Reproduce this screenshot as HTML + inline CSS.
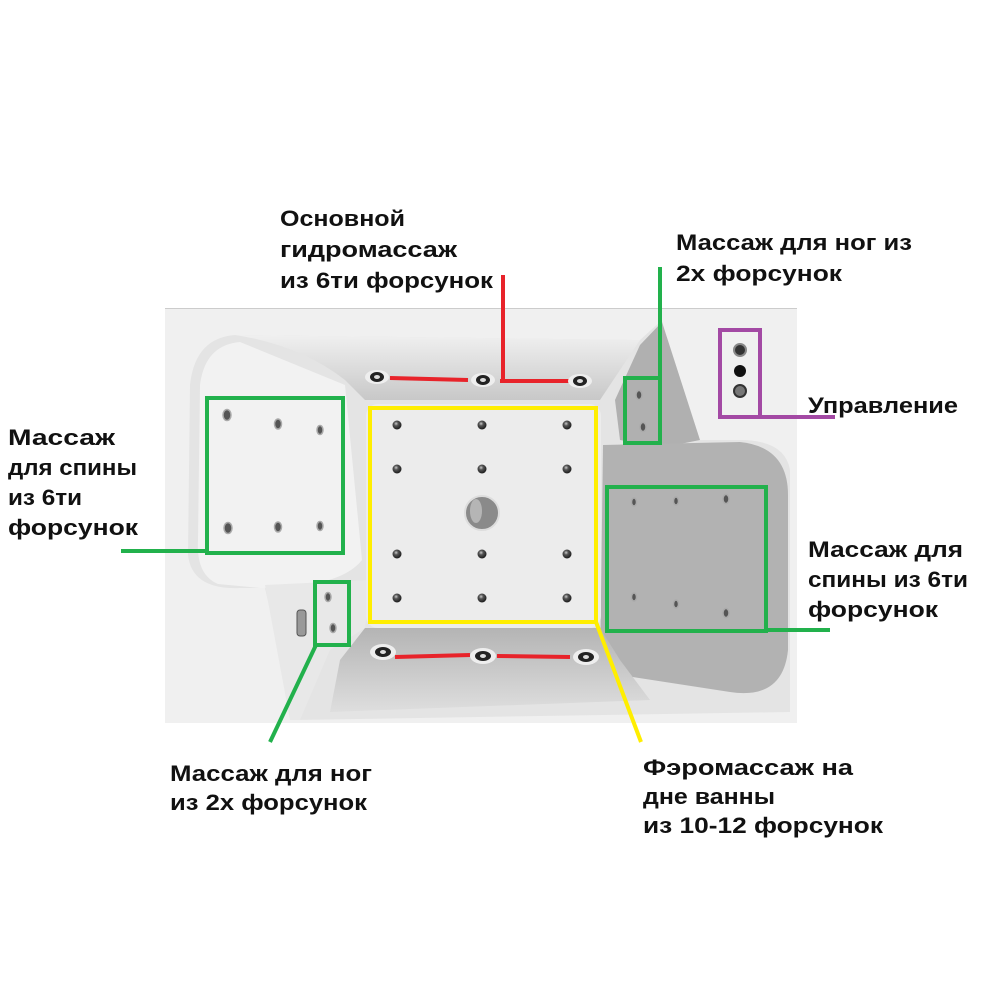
<!DOCTYPE html>
<html><head><meta charset="utf-8">
<style>html,body{margin:0;padding:0;background:#fff}svg{display:block}
text{font-family:"Liberation Sans","DejaVu Sans",sans-serif;font-weight:bold;font-size:22px;fill:#111}</style></head>
<body>
<svg width="1000" height="1000" viewBox="0 0 1000 1000" xmlns="http://www.w3.org/2000/svg">
<defs>
<linearGradient id="gt" x1="0" y1="0" x2="0" y2="1"><stop offset="0" stop-color="#f0f0f0"/><stop offset="1" stop-color="#c8c8c8"/></linearGradient>
<linearGradient id="gb" x1="0" y1="0" x2="0" y2="1"><stop offset="0" stop-color="#b4b4b4"/><stop offset="1" stop-color="#dedede"/></linearGradient>
<radialGradient id="dot" cx="0.4" cy="0.35" r="0.6"><stop offset="0" stop-color="#ccc"/><stop offset="0.4" stop-color="#555"/><stop offset="1" stop-color="#222"/></radialGradient>
</defs>
<rect x="165" y="308" width="632" height="415" fill="#f0f0f0"/>
<line x1="165" y1="308.5" x2="797" y2="308.5" stroke="#ccc"/>
<path d="M235 335 Q195 338 190 385 L188 555 Q192 590 240 588 L265 588 L295 720 L790 712 L790 470 Q785 440 740 440 L690 440 L662 320 L640 340 Z" fill="#e4e4e4"/>
<path d="M235 335 L640 340 Q620 370 600 400 L365 400 L345 380 Q300 345 235 335 Z" fill="url(#gt)"/>
<path d="M640 345 L662 322 L700 440 L660 448 L620 440 L615 400 Z" fill="#b0b0b0"/>
<path d="M603 445 L740 442 Q788 447 788 495 L788 650 Q783 700 730 692 L600 672 Z" fill="#b2b2b2"/>
<path d="M200 385 Q205 345 240 342 L345 385 L362 560 Q340 588 260 588 L218 584 Q196 575 198 540 Z" fill="#f2f2f2"/>
<path d="M265 585 L370 580 L365 628 L330 650 L300 720 L290 720 Z" fill="#e8e8e8"/>
<path d="M365 628 L600 628 L620 660 L650 700 L330 712 L340 660 Z" fill="url(#gb)"/>
<rect x="366" y="404" width="235" height="224" rx="12" fill="#ececec"/>
<g fill="url(#dot)">
<circle cx="397" cy="425" r="4.5"/><circle cx="482" cy="425" r="4.5"/><circle cx="567" cy="425" r="4.5"/>
<circle cx="397" cy="469" r="4.5"/><circle cx="482" cy="469" r="4.5"/><circle cx="567" cy="469" r="4.5"/>
<circle cx="397" cy="554" r="4.5"/><circle cx="482" cy="554" r="4.5"/><circle cx="567" cy="554" r="4.5"/>
<circle cx="397" cy="598" r="4.5"/><circle cx="482" cy="598" r="4.5"/><circle cx="567" cy="598" r="4.5"/>
</g>
<circle cx="482" cy="513" r="17" fill="#8a8a8a" stroke="#ddd" stroke-width="2"/>
<ellipse cx="476" cy="511" rx="6" ry="12" fill="#b5b5b5"/>
<g fill="#555" stroke="#aaa" stroke-width="1.5">
<ellipse cx="227" cy="415" rx="4" ry="5.5"/><ellipse cx="278" cy="424" rx="3.5" ry="5"/><ellipse cx="320" cy="430" rx="3" ry="4.5"/>
<ellipse cx="228" cy="528" rx="4" ry="5.5"/><ellipse cx="278" cy="527" rx="3.5" ry="5"/><ellipse cx="320" cy="526" rx="3" ry="4.5"/>
<ellipse cx="328" cy="597" rx="3" ry="4.5"/><ellipse cx="333" cy="628" rx="3" ry="4.5"/>
<ellipse cx="639" cy="395" rx="3" ry="4.5"/><ellipse cx="643" cy="427" rx="3" ry="4.5"/>
<ellipse cx="634" cy="502" rx="2.5" ry="4"/><ellipse cx="676" cy="501" rx="2.5" ry="4"/><ellipse cx="726" cy="499" rx="3" ry="4.5"/>
<ellipse cx="634" cy="597" rx="2.5" ry="4"/><ellipse cx="676" cy="604" rx="2.5" ry="4"/><ellipse cx="726" cy="613" rx="3" ry="4.5"/>
</g>
<rect x="297" y="610" width="9" height="26" rx="3" fill="#999" stroke="#555"/>
<circle cx="740" cy="350" r="6" fill="#333" stroke="#888" stroke-width="2"/>
<circle cx="740" cy="371" r="6" fill="#111"/>
<circle cx="740" cy="391" r="6" fill="#777" stroke="#333" stroke-width="2"/>
<g stroke="#e8232a" stroke-width="4" fill="none">
<line x1="503" y1="275" x2="503" y2="381"/>
<polyline points="390,378 468,380"/>
<polyline points="500,381 572,381"/>
<polyline points="395,657 470,655"/>
<polyline points="497,656 570,657"/>
</g>
<g>
<g transform="translate(377,377)"><ellipse rx="12" ry="7" fill="#eee"/><ellipse rx="7" ry="5" fill="#222"/><ellipse rx="3" ry="2" fill="#ddd"/></g>
<g transform="translate(483,380)"><ellipse rx="12" ry="7" fill="#eee"/><ellipse rx="7" ry="5" fill="#222"/><ellipse rx="3" ry="2" fill="#ddd"/></g>
<g transform="translate(580,381)"><ellipse rx="12" ry="7" fill="#eee"/><ellipse rx="7" ry="5" fill="#222"/><ellipse rx="3" ry="2" fill="#ddd"/></g>
<g transform="translate(383,652)"><ellipse rx="13" ry="8" fill="#eee"/><ellipse rx="8" ry="5" fill="#222"/><ellipse rx="3" ry="2" fill="#ddd"/></g>
<g transform="translate(483,656)"><ellipse rx="13" ry="8" fill="#eee"/><ellipse rx="8" ry="5" fill="#222"/><ellipse rx="3" ry="2" fill="#ddd"/></g>
<g transform="translate(586,657)"><ellipse rx="13" ry="8" fill="#eee"/><ellipse rx="8" ry="5" fill="#222"/><ellipse rx="3" ry="2" fill="#ddd"/></g>
</g>
<g stroke="#ffee00" stroke-width="4" fill="none">
<rect x="370" y="408" width="226" height="214"/>
<line x1="596" y1="622" x2="641" y2="742"/>
</g>
<g stroke="#22b14c" stroke-width="4" fill="none">
<rect x="207" y="398" width="136" height="155"/>
<line x1="121" y1="551" x2="207" y2="551"/>
<rect x="315" y="582" width="34" height="63"/>
<line x1="316" y1="645" x2="270" y2="742"/>
<rect x="625" y="378" width="35" height="65"/>
<line x1="660" y1="267" x2="660" y2="378"/>
<rect x="607" y="487" width="159" height="144"/>
<line x1="766" y1="630" x2="830" y2="630"/>
</g>
<g stroke="#a349a4" stroke-width="4" fill="none">
<rect x="720" y="330" width="40" height="87"/>
<line x1="760" y1="417" x2="835" y2="417"/>
</g>
<text x="280" y="226" textLength="125" lengthAdjust="spacingAndGlyphs">Основной</text>
<text x="280" y="257" textLength="177" lengthAdjust="spacingAndGlyphs">гидромассаж</text>
<text x="280" y="288" textLength="213" lengthAdjust="spacingAndGlyphs">из 6ти форсунок</text>
<text x="676" y="250" textLength="236" lengthAdjust="spacingAndGlyphs">Массаж для ног из</text>
<text x="676" y="281" textLength="166" lengthAdjust="spacingAndGlyphs">2х форсунок</text>
<text x="808" y="413" textLength="150" lengthAdjust="spacingAndGlyphs">Управление</text>
<text x="808" y="557" textLength="155" lengthAdjust="spacingAndGlyphs">Массаж для</text>
<text x="808" y="587" textLength="160" lengthAdjust="spacingAndGlyphs">спины из 6ти</text>
<text x="808" y="617" textLength="130" lengthAdjust="spacingAndGlyphs">форсунок</text>
<text x="8" y="445" textLength="107" lengthAdjust="spacingAndGlyphs">Массаж</text>
<text x="8" y="475" textLength="129" lengthAdjust="spacingAndGlyphs">для спины</text>
<text x="8" y="505" textLength="74" lengthAdjust="spacingAndGlyphs">из 6ти</text>
<text x="8" y="535" textLength="130" lengthAdjust="spacingAndGlyphs">форсунок</text>
<text x="170" y="781" textLength="202" lengthAdjust="spacingAndGlyphs">Массаж для ног</text>
<text x="170" y="810" textLength="197" lengthAdjust="spacingAndGlyphs">из 2х форсунок</text>
<text x="643" y="775" textLength="210" lengthAdjust="spacingAndGlyphs">Фэромассаж на</text>
<text x="643" y="804" textLength="132" lengthAdjust="spacingAndGlyphs">дне ванны</text>
<text x="643" y="833" textLength="240" lengthAdjust="spacingAndGlyphs">из 10-12 форсунок</text>
</svg>
</body></html>
